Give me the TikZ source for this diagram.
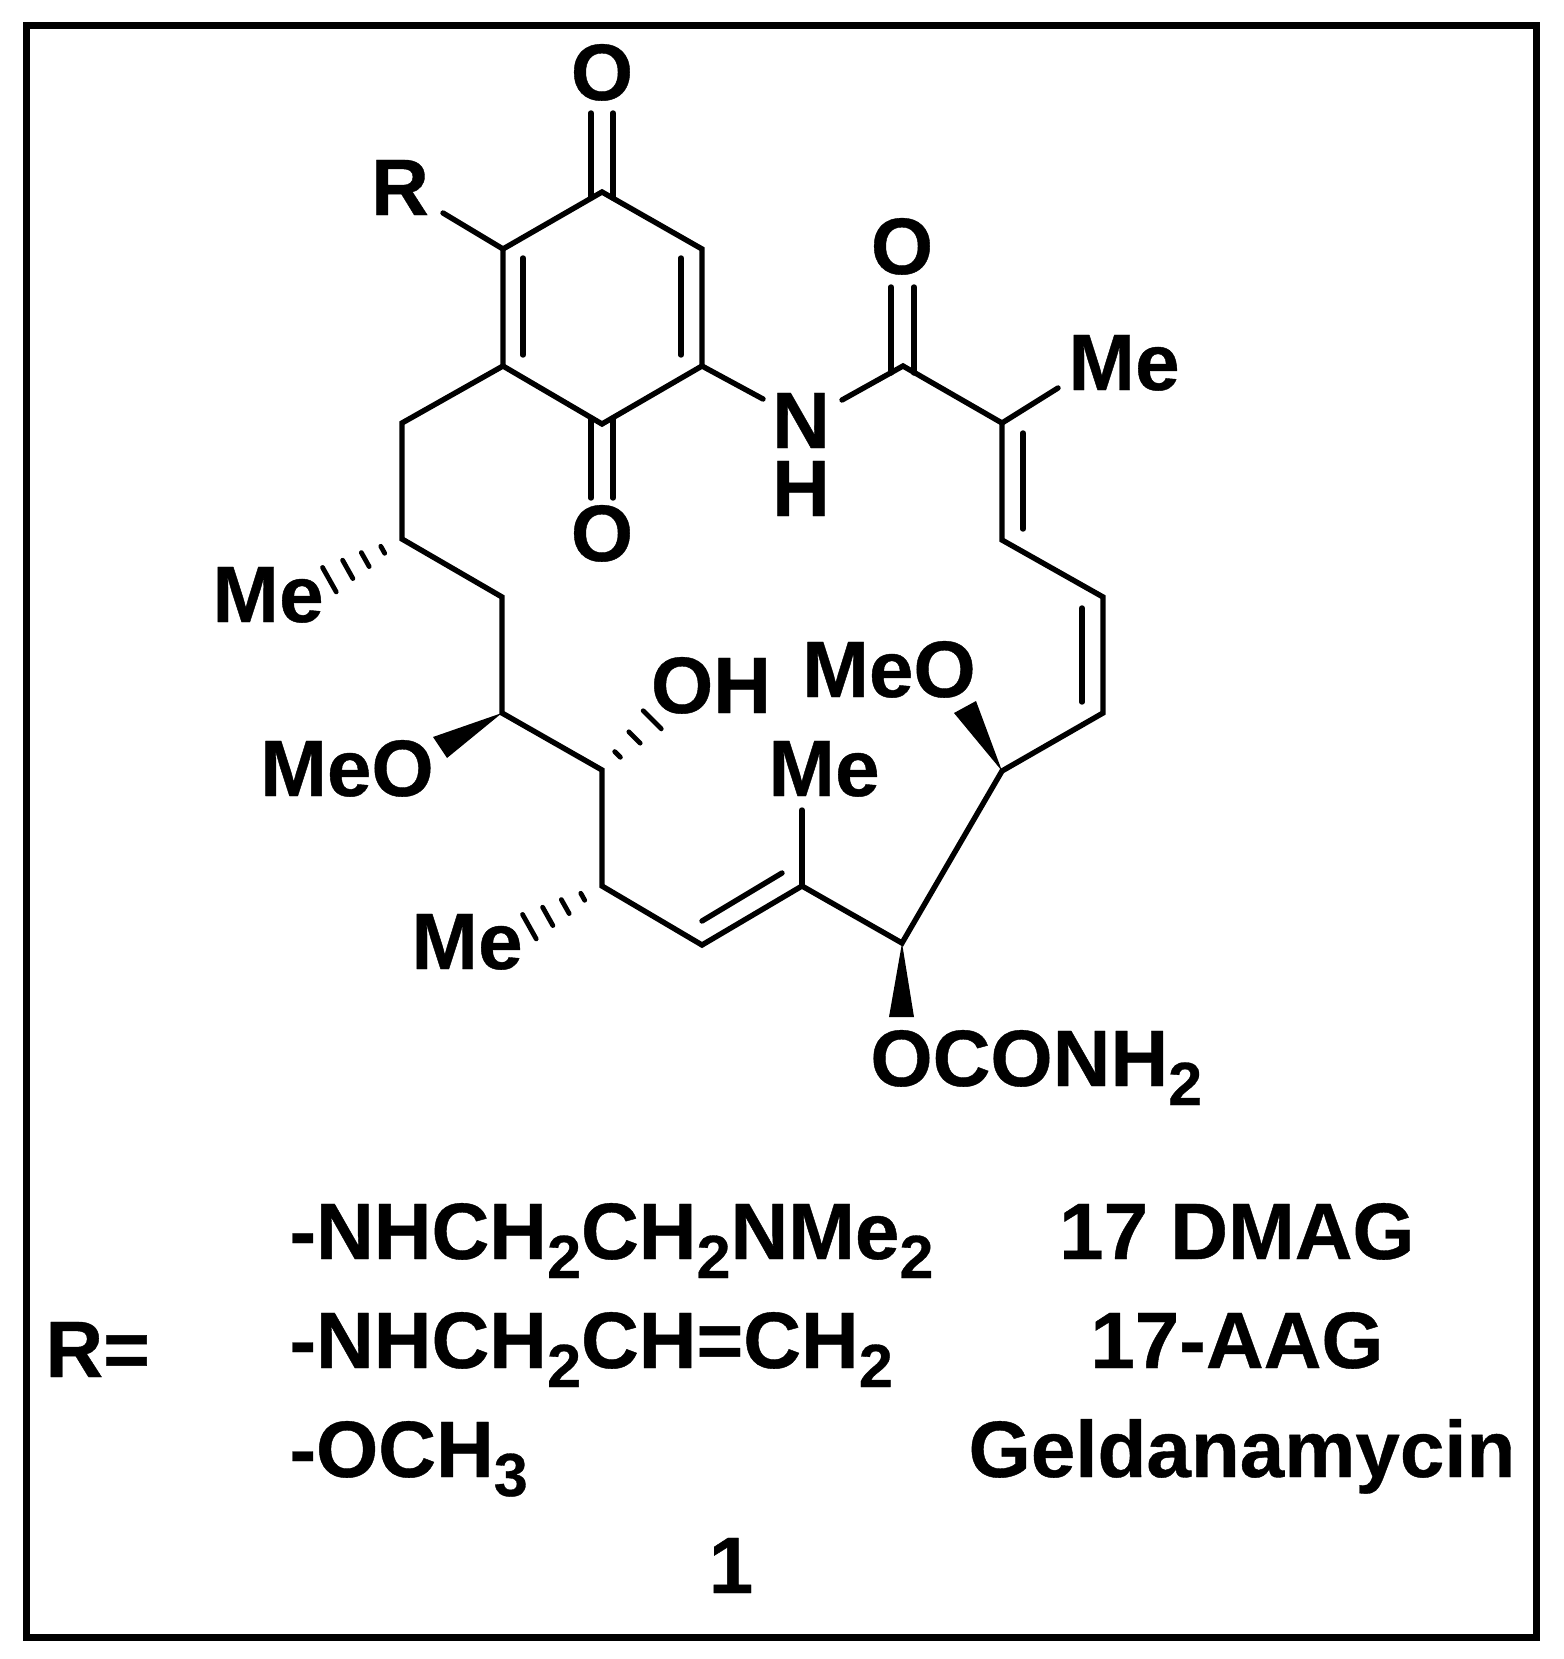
\documentclass[tikz,border=0pt]{standalone}
\usepackage{fontspec}
\setmainfont{Liberation Sans}[BoldFeatures={FakeBold=0.5}]
\usetikzlibrary{calc}
\newcommand{\chemsub}[1]{\raisebox{-9.5pt}{\fontsize{30.5}{30}\selectfont #1}}
\newcommand{\hashbond}[3]{\foreach \t/\w in {#3} {\draw[hash] ($(#1)!\t!(#2)!\w pt!90:(#2)$) -- ($(#1)!\t!(#2)!\w pt!-90:(#2)$);}}
\begin{document}
\begin{tikzpicture}[
		x=0.5pt, y=-0.5pt,
		label text/.style={inner sep=0pt, anchor=base, font=\fontsize{40}{40}\selectfont\bfseries},
		left text/.style={label text, anchor=base west},
		bond/.style={line width=2.7pt, line cap=round, line join=miter},
		hash/.style={line width=2.4pt, line cap=round},
		wedge/.style={fill=black, draw=none},
		frame/.style={line width=3.5pt},
	]
		\useasboundingbox (0,0) rectangle (1563,1659);
		\draw[frame] (26.5,25.5) rectangle (1536.5,1637.5);

		\coordinate (ring top) at (602,192);
		\coordinate (ring left up) at (503,249);
		\coordinate (ring left low) at (503,366);
		\coordinate (ring bottom) at (602,424);
		\coordinate (ring right low) at (702,366);
		\coordinate (ring right up) at (702,249);
		\coordinate (ring left in a) at (523,258);
		\coordinate (ring left in b) at (523,355);
		\coordinate (ring right in a) at (681,258);
		\coordinate (ring right in b) at (681,355);

		\coordinate (chain a) at (402,423);
		\coordinate (chain me a) at (402,539);
		\coordinate (chain b) at (502,597);
		\coordinate (chain ome) at (502,713);
		\coordinate (chain oh) at (602,770);
		\coordinate (chain me b) at (602,886);
		\coordinate (ene a) at (702,945);
		\coordinate (ene b) at (802,886);
		\coordinate (ene in a) at (702,921);
		\coordinate (ene in b) at (782,873);
		\coordinate (chain carb) at (902,943);
		\coordinate (chain ome top) at (1002,771);
		\coordinate (diene d) at (1103,713);
		\coordinate (diene c) at (1103,597);
		\coordinate (diene in c) at (1082,608);
		\coordinate (diene in d) at (1082,702);
		\coordinate (diene b) at (1002,540);
		\coordinate (diene a) at (1002,423);
		\coordinate (diene in a) at (1023,433);
		\coordinate (diene in b) at (1023,529);
		\coordinate (amide c) at (903,366);

		\coordinate (r end) at (443,213);
		\coordinate (nh end left) at (763,399);
		\coordinate (nh end right) at (842,400);
		\coordinate (me amide end) at (1058,388);
		\coordinate (me ene end) at (802,810);
		\coordinate (co top a) at (591,113);
		\coordinate (co top a ring) at (591,198);
		\coordinate (co top b) at (613,113);
		\coordinate (co top b ring) at (613,198);
		\coordinate (co low a) at (591,498);
		\coordinate (co low a ring) at (591,418);
		\coordinate (co low b) at (613,498);
		\coordinate (co low b ring) at (613,418);
		\coordinate (co amide a) at (891,287);
		\coordinate (co amide a c) at (891,373);
		\coordinate (co amide b) at (914,287);
		\coordinate (co amide b c) at (914,373);

		\coordinate (hash me a) at (314.5,588);
		\coordinate (hash me b) at (514.5,935);
		\coordinate (hash oh) at (672.7,699.3);
		\coordinate (wedge ome a) at (433,737);
		\coordinate (wedge ome b) at (447,758);
		\coordinate (wedge top a) at (954,713);
		\coordinate (wedge top b) at (976,701);
		\coordinate (wedge low a) at (889,1017);
		\coordinate (wedge low b) at (914,1017);

		\node (o top) [label text] at (602,100) {O};
		\node (o low) [label text] at (602,561) {O};
		\node (r group) [label text] at (400,215) {R};
		\node (o amide) [label text] at (902,274) {O};
		\node (n amide) [label text] at (801,448) {N};
		\node (h amide) [label text] at (801,516) {H};
		\node (me amide) [label text] at (1124,390) {Me};
		\node (me a) [label text] at (268,622) {Me};
		\node (ome a) [label text] at (347,796) {MeO};
		\node (oh) [label text] at (711,713) {OH};
		\node (me ene) [label text] at (824,796) {Me};
		\node (me b) [label text] at (467,969) {Me};
		\node (ome top) [label text] at (889,697) {MeO};
		\node (carbamate) [left text] at (870,1086) {OCONH\chemsub{2}};

		\draw[bond] (ring top) -- (ring left up) -- (ring left low) -- (ring bottom) -- (ring right low) -- (ring right up) -- cycle;
		\draw[bond] (ring left in a) -- (ring left in b);
		\draw[bond] (ring right in a) -- (ring right in b);
		\draw[bond] (ring left up) -- (r end);
		\draw[bond] (ring right low) -- (nh end left);
		\draw[bond] (co top a) -- (co top a ring);
		\draw[bond] (co top b) -- (co top b ring);
		\draw[bond] (co low a) -- (co low a ring);
		\draw[bond] (co low b) -- (co low b ring);
		\draw[bond] (co amide a) -- (co amide a c);
		\draw[bond] (co amide b) -- (co amide b c);

		\draw[bond] (ring left low) -- (chain a) -- (chain me a) -- (chain b) -- (chain ome) -- (chain oh) -- (chain me b) -- (ene a) -- (ene b) -- (chain carb) -- (chain ome top) -- (diene d) -- (diene c) -- (diene b) -- (diene a) -- (amide c) -- (nh end right);
		\draw[bond] (ene in a) -- (ene in b);
		\draw[bond] (diene in a) -- (diene in b);
		\draw[bond] (diene in c) -- (diene in d);
		\draw[bond] (ene b) -- (me ene end);
		\draw[bond] (diene a) -- (me amide end);

		\fill[wedge] (chain ome) -- (wedge ome a) -- (wedge ome b) -- cycle;
		\fill[wedge] (chain ome top) -- (wedge top a) -- (wedge top b) -- cycle;
		\fill[wedge] (chain carb) -- (wedge low a) -- (wedge low b) -- cycle;
		\hashbond{chain me a}{hash me a}{.22/2,.42/4,.62/5.25,.83/7}
		\hashbond{chain me b}{hash me b}{.22/2,.42/4,.62/5.25,.83/7}
		\hashbond{chain oh}{hash oh}{.22/2,.46/4,.71/6.4}

		\node (row a) [left text] at (289,1259) {-NHCH\chemsub{2}CH\chemsub{2}NMe\chemsub{2}};
		\node (row b) [left text] at (289,1368) {-NHCH\chemsub{2}CH=CH\chemsub{2}};
		\node (row c) [left text] at (289,1477) {-OCH\chemsub{3}};
		\node (r equals) [left text] at (45,1377) {R=};
		\node (name a) [label text] at (1237,1259) {17 DMAG};
		\node (name b) [label text] at (1237,1368) {17-AAG};
		\node (name c) [label text] at (1242,1477) {Geldanamycin};
		\node (compound) [label text] at (731,1593) {1};
	\end{tikzpicture}
\end{document}
